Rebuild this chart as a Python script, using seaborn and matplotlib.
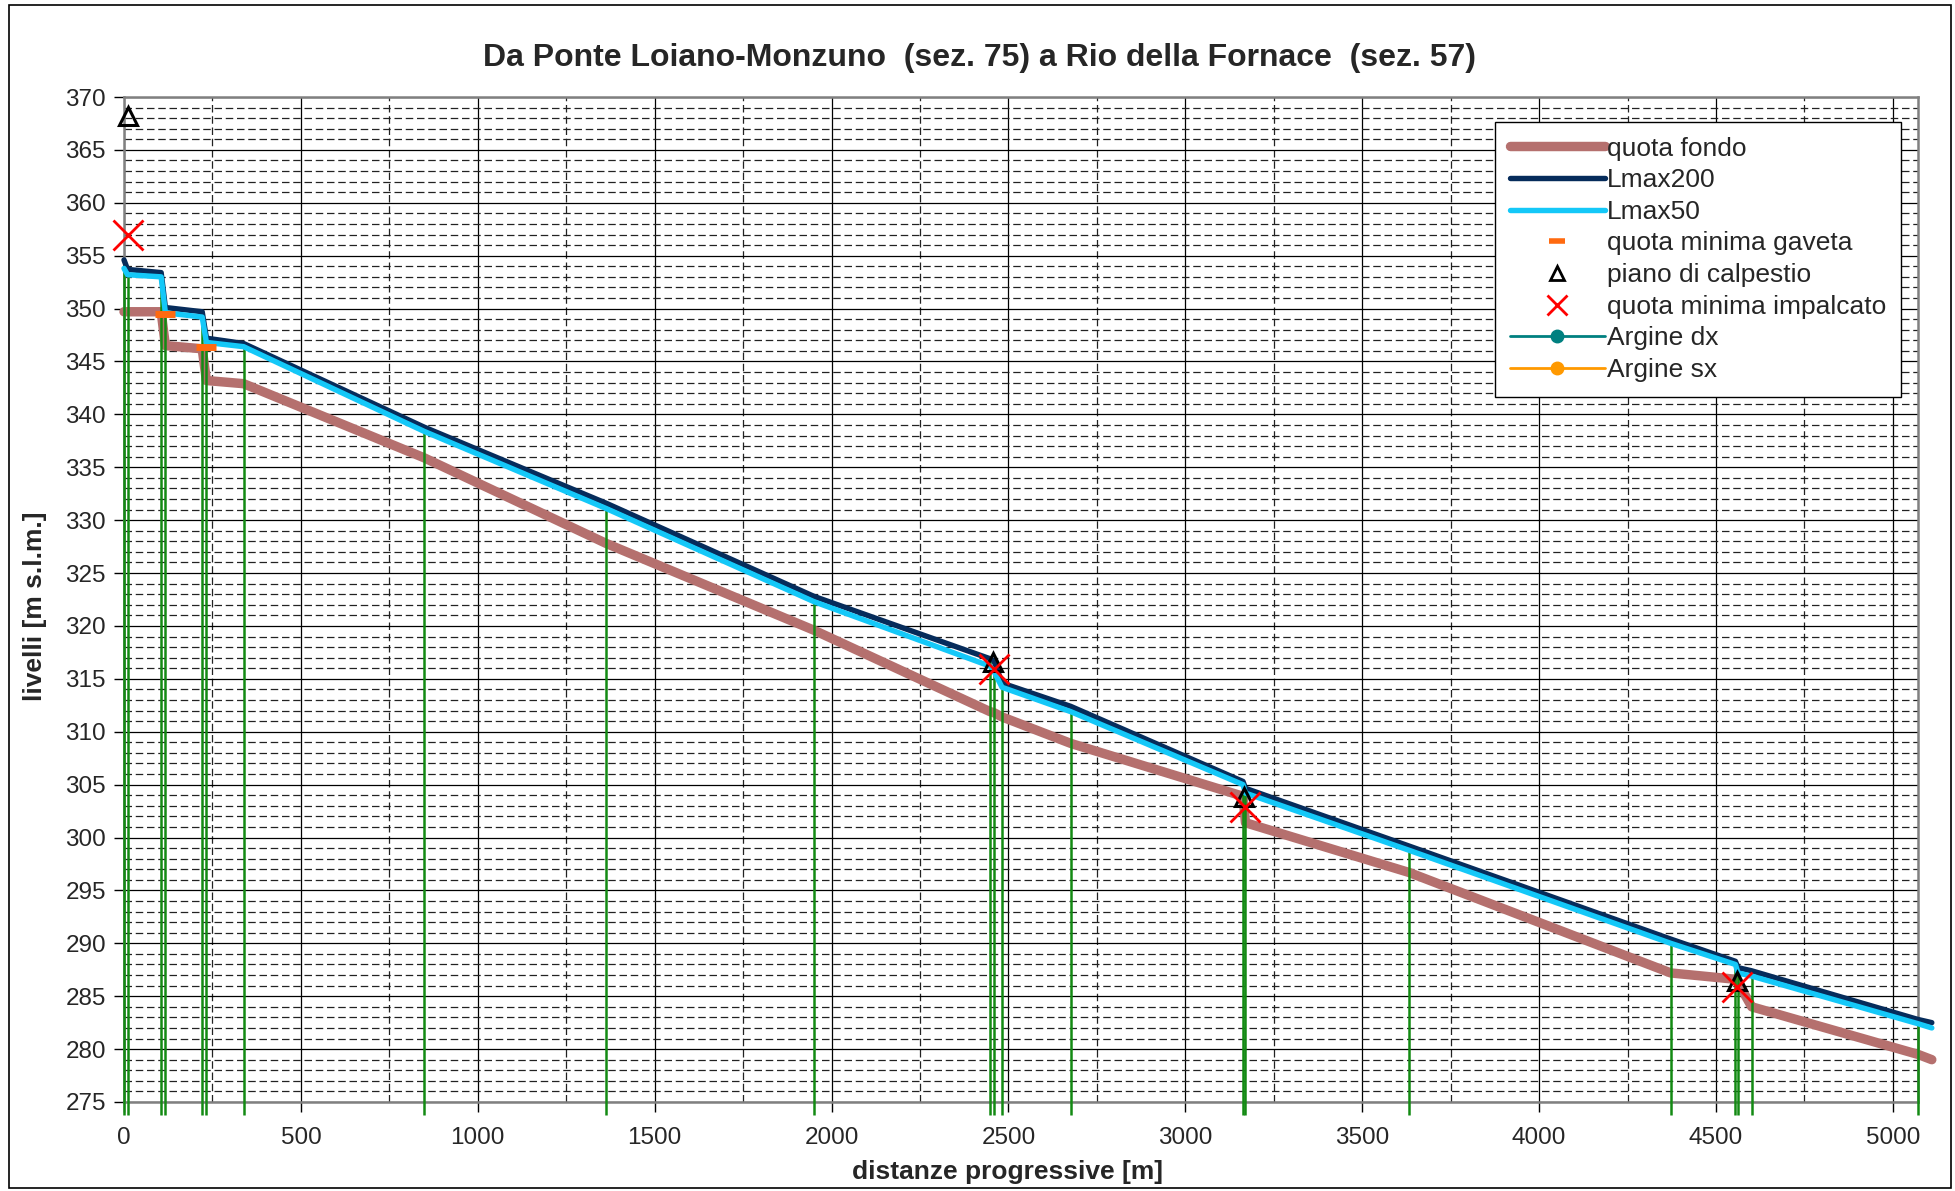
import numpy as np
import pandas as pd
import seaborn as sns
import matplotlib.pyplot as plt
from matplotlib.patches import Rectangle
from matplotlib.ticker import MultipleLocator

# sezioni (distanze progressive) e livelli
sez_x = [0, 10, 105, 117, 221, 233, 338, 848, 1363, 1950, 2448, 2459, 2482, 2676,
         3163, 3170, 3632, 4372, 4555, 4562, 4601, 5071, 5110]
fondo = [349.7, 349.7, 349.7, 346.5, 346.2, 343.2, 342.9, 335.9, 327.8, 319.6, 311.9, 311.8,
         311.4, 308.9, 303.9, 301.4, 296.7, 287.2, 286.6, 286.3, 284.0, 279.5, 279.0]
lmax200 = [354.6, 353.7, 353.4, 350.1, 349.7, 347.2, 346.7, 338.8, 331.6, 322.8, 316.9, 316.7,
           314.6, 312.4, 305.3, 304.65, 299.2, 290.4, 288.3, 287.7, 287.4, 282.8, 282.5]
lmax50 = [353.8, 353.2, 353.0, 349.6, 349.2, 346.8, 346.4, 338.4, 331.1, 322.3, 316.2, 315.7,
          314.2, 311.9, 305.0, 304.2, 298.8, 290.0, 288.0, 287.2, 286.9, 282.4, 282.0]

# sezioni rappresentate con linea verticale
sez_vert = [0, 10, 105, 117, 221, 233, 338, 848, 1363, 1950, 2448, 2459, 2482, 2676,
            3163, 3170, 3632, 4372, 4555, 4562, 4601, 5071]

gaveta_x = [117, 233]
gaveta_y = [349.5, 346.35]
calpestio_x = [11, 2455, 3167, 4558]
calpestio_y = [368.2, 316.6, 303.8, 286.4]
impalcato_x = [12, 2459, 3168, 4560]
impalcato_y = [357.0, 315.9, 302.9, 285.85]

sns.set_style("white")
plt.rcParams['font.family'] = ['Liberation Sans', 'DejaVu Sans']

W, H = 1955, 1191
fig = plt.figure(figsize=(W / 100, H / 100), dpi=100)
ax = fig.add_axes([124 / W, 1 - 1102 / H, (1918 - 124) / W, (1102 - 97) / H])

df = pd.DataFrame({'x': sez_x, 'fondo': fondo, 'lmax200': lmax200, 'lmax50': lmax50})

sns.lineplot(data=df, x='x', y='fondo', ax=ax, color='#b5706e', lw=6.8, label='quota fondo',
             estimator=None, sort=False, zorder=2, clip_on=False)
top = np.interp(sez_vert, sez_x, lmax200)
ax.vlines(sez_vert, 273.8, top, color='#138a13', lw=1.8, zorder=3, clip_on=False)
sns.lineplot(data=df, x='x', y='lmax200', ax=ax, color='#062c5b', lw=3.9, label='Lmax200',
             estimator=None, sort=False, zorder=4, clip_on=False)
sns.lineplot(data=df, x='x', y='lmax50', ax=ax, color='#14c8f8', lw=3.9, label='Lmax50',
             estimator=None, sort=False, zorder=5, clip_on=False)

ax.plot(gaveta_x, gaveta_y, ls='none', marker='_', ms=15, mew=5, color='#ff6a10', zorder=6,
        clip_on=False)
ax.plot(calpestio_x, calpestio_y, ls='none', marker='^', ms=13, mew=2.2, mfc='none', mec='black',
        zorder=6, clip_on=False)
ax.plot(impalcato_x, impalcato_y, ls='none', marker='x', ms=22, mew=2, color='red', zorder=7,
        clip_on=False)

# voci di legenda (marcatori in scala ridotta come nell'originale)
ax.plot([], [], ls='none', marker='_', ms=12, mew=4, color='#ff6a10', label='quota minima gaveta')
ax.plot([], [], ls='none', marker='^', ms=10, mew=2, mfc='none', mec='black',
        label='piano di calpestio')
ax.plot([], [], ls='none', marker='x', ms=14, mew=2, color='red', label='quota minima impalcato')
ax.plot([], [], color='#008080', lw=2, marker='o', ms=9, label='Argine dx')
ax.plot([], [], color='#ff9900', lw=2, marker='o', ms=9, label='Argine sx')

ax.set_xlim(0, 5071)
ax.set_ylim(275, 370)
ax.xaxis.set_major_locator(MultipleLocator(500))
ax.xaxis.set_minor_locator(MultipleLocator(250))
ax.yaxis.set_major_locator(MultipleLocator(5))
ax.yaxis.set_minor_locator(MultipleLocator(1))
ax.set_xticks(np.arange(0, 5001, 500))

ax.set_axisbelow(True)
ax.grid(which='major', color='black', lw=0.9)
ax.grid(which='minor', color='#222222', lw=0.9, ls=(0, (6, 3)))
for sp in ax.spines.values():
    sp.set_color('#808080')
    sp.set_linewidth(1.8)

ax.tick_params(which='major', bottom=True, left=True, direction='out', length=7, width=1,
               color='black', labelsize=17.5)
ax.tick_params(which='minor', length=0)
ax.tick_params(axis='x', pad=11)
ax.tick_params(axis='y', pad=6)
ax.set_xlabel('')
ax.set_ylabel('')

fig.text(980 / W, 1 - 58 / H, 'Da Ponte Loiano-Monzuno  (sez. 75) a Rio della Fornace  (sez. 57)',
         ha='center', va='center', fontsize=23, fontweight='bold')
fig.text(1008 / W, 1 - 1172 / H, 'distanze progressive [m]', ha='center', va='center',
         fontsize=19, fontweight='bold')
fig.text(35 / W, 1 - 606 / H, 'livelli [m s.l.m.]', ha='center', va='center', rotation=90,
         fontsize=19, fontweight='bold')

ax.legend(loc='upper right', bbox_to_anchor=(1901 / W, 1 - 122 / H), bbox_transform=fig.transFigure,
          frameon=True, fancybox=False, edgecolor='black', framealpha=1, fontsize=19,
          handlelength=3.6, handletextpad=0.1, borderpad=0.55, labelspacing=0.29, numpoints=1,
          borderaxespad=0)

fig.add_artist(Rectangle((9 / W, 3 / H), (1951 - 9) / W, (1186 - 3) / H, transform=fig.transFigure,
                         fill=False, edgecolor='black', lw=1.2))

fig.savefig('out.png', dpi=100)
